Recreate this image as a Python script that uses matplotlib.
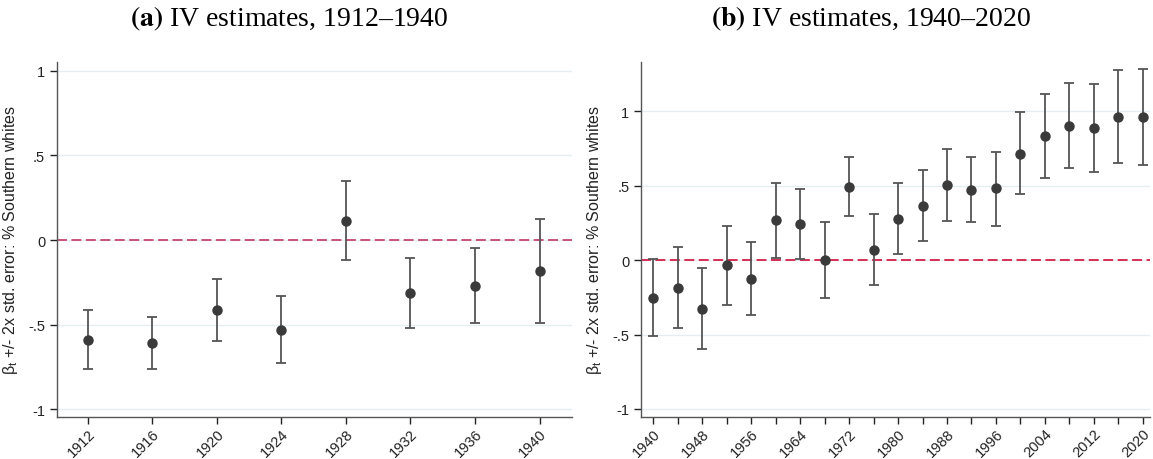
import matplotlib
matplotlib.use('Agg')
import matplotlib.pyplot as plt

# panel (a) 1912-1940
years_a = [1912, 1916, 1920, 1924, 1928, 1932, 1936, 1940]
beta_a = [-0.59, -0.611, -0.416, -0.531, 0.115, -0.316, -0.27, -0.184]
lo_a = [-0.762, -0.762, -0.596, -0.725, -0.117, -0.521, -0.49, -0.49]
hi_a = [-0.416, -0.457, -0.232, -0.334, 0.348, -0.109, -0.049, 0.125]

# panel (b) 1940-2020
years_b = list(range(1940, 2021, 4))
beta_b = [-0.252, -0.185, -0.327, -0.036, -0.127, 0.267, 0.243, 0.0, 0.494, 0.069,
          0.278, 0.365, 0.503, 0.472, 0.481, 0.715, 0.831, 0.902, 0.884, 0.962, 0.960]
lo_b = [-0.508, -0.457, -0.597, -0.301, -0.372, 0.016, 0.009, -0.254, 0.296, -0.167,
        0.038, 0.129, 0.261, 0.256, 0.232, 0.443, 0.550, 0.617, 0.592, 0.650, 0.639]
hi_b = [0.004, 0.087, -0.056, 0.232, 0.118, 0.517, 0.474, 0.254, 0.695, 0.307,
        0.517, 0.604, 0.748, 0.690, 0.728, 0.993, 1.118, 1.19, 1.18, 1.278, 1.281]

yticks = [-1, -0.5, 0, 0.5, 1]
ytick_labels = ['-1', '-.5', '0', '.5', '1']
ylab = r'$\beta_t$ +/- 2x std. error: % Southern whites'

plt.rcParams['font.family'] = ['Liberation Sans', 'DejaVu Sans']
plt.rcParams['mathtext.fontset'] = 'custom'
plt.rcParams['mathtext.rm'] = 'Liberation Sans'
plt.rcParams['mathtext.it'] = 'Liberation Sans'

fig = plt.figure(figsize=(11.53, 4.60), dpi=100)
ax1 = fig.add_axes([0.0494, 0.0913, 0.4466, 0.7717])
ax2 = fig.add_axes([0.556, 0.0913, 0.441, 0.7717])


def draw(ax, years, beta, lo, hi, zero_col):
    yerr = [[b - l for b, l in zip(beta, lo)], [h - b for b, h in zip(beta, hi)]]
    ax.axhline(0, color=zero_col, lw=1.3, ls=(0, (5.5, 2.5)), zorder=1)
    ax.errorbar(years, beta, yerr=yerr, fmt='none', ecolor='#555555', elinewidth=1.3,
                capsize=3.5, capthick=1.3, zorder=2)
    ax.plot(years, beta, 'o', color='#3a3a3a', ms=6.5, zorder=3)
    ax.set_yticks(yticks)
    ax.set_yticklabels(ytick_labels)
    ax.grid(axis='y', color='#e4edf1', lw=1)
    ax.set_axisbelow(True)
    for s in ['top', 'right']:
        ax.spines[s].set_visible(False)
    for s in ['left', 'bottom']:
        ax.spines[s].set_color('#555555')
        ax.spines[s].set_linewidth(1.0)
    ax.tick_params(colors='#222222', labelsize=10.5, length=5, width=1, direction='out')
    ax.tick_params(axis='x', pad=1.5)
    ax.tick_params(which='minor', length=5, width=1, color='#222222')
    ax.set_ylabel(ylab, fontsize=11.5, color='#222222', labelpad=6)


draw(ax1, years_a, beta_a, lo_a, hi_a, '#c4466c')
ax1.set_xlim(1910.1, 1942)
ax1.set_ylim(-1.047, 1.053)
ax1.set_xticks(years_a)
ax1.set_xticklabels([str(y) for y in years_a], rotation=45, ha='right', va='top',
                    rotation_mode='anchor')

draw(ax2, years_b, beta_b, lo_b, hi_b, '#d41f48')
ax2.set_xlim(1938.0, 2021.1)
ax2.set_ylim(-1.054, 1.33)
ax2.set_xticks(years_b[::2])
ax2.set_xticks(years_b[1::2], minor=True)
ax2.set_xticklabels([str(y) for y in years_b[::2]], rotation=45, ha='right', va='top',
                    rotation_mode='anchor')

fig.text(0.251, 0.958, r'$\mathbf{(a)}$ IV estimates, 1912–1940', ha='center', va='center',
         fontsize=20, family='Liberation Serif', math_fontfamily='stix')
fig.text(0.755, 0.958, r'$\mathbf{(b)}$ IV estimates, 1940–2020', ha='center', va='center',
         fontsize=20, family='Liberation Serif', math_fontfamily='stix')

fig.savefig('out.png', dpi=100)
